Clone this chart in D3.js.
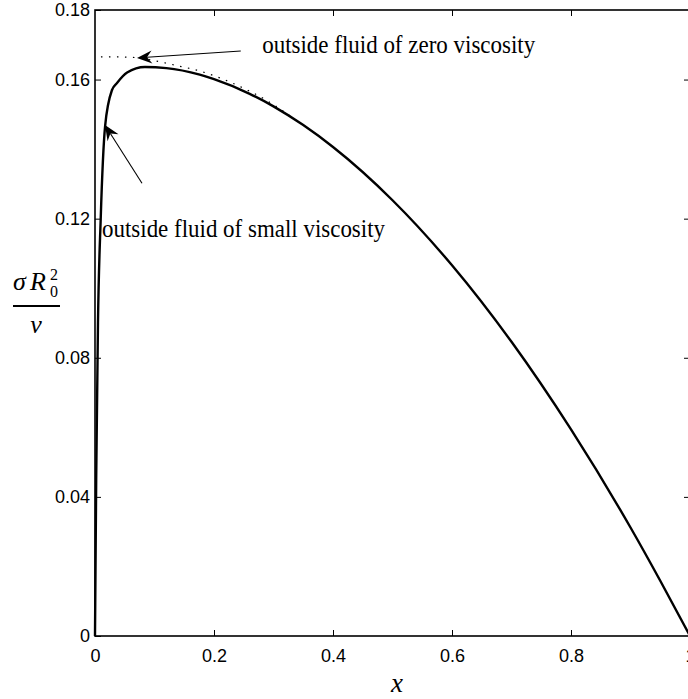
<!DOCTYPE html>
<html>
<head>
<meta charset="utf-8">
<script src="https://cdn.jsdelivr.net/npm/d3@7"></script>
<style>
  body { margin: 0; background: #fff; }
  svg { display: block; }
  .tick text { font-family: "Liberation Sans", Arial, sans-serif; font-size: 18px; fill: #000; }
  .tick line { stroke: #000; stroke-width: 1; }
  .note { font-family: "Liberation Serif", "DejaVu Serif", serif; font-size: 26px; fill: #000; }
  .math { font-family: "Liberation Serif", "DejaVu Serif", serif; font-style: italic; fill: #000; }
</style>
</head>
<body>
<script>
// curve: outside fluid of small viscosity
var curveX = [0, 0.002, 0.005, 0.0096, 0.017, 0.0286, 0.037, 0.054, 0.084, 0.12, 0.176, 0.2, 0.26, 0.3, 0.35, 0.4, 0.5, 0.6, 0.7, 0.8, 0.9, 0.95, 1];
var curveY = [0, 0.045, 0.09, 0.12, 0.1466, 0.157, 0.159, 0.162, 0.1636, 0.1633, 0.1614, 0.1601, 0.1559, 0.1523, 0.1469, 0.1406, 0.1253, 0.1066, 0.0846, 0.0594, 0.0312, 0.0159, 0];

// dotted: outside fluid of zero viscosity (merges into the solid curve)
var dotX = [0.01, 0.04, 0.07, 0.109, 0.138, 0.171, 0.232, 0.3, 0.34];
var dotY = [0.1665, 0.1665, 0.1663, 0.1651, 0.164, 0.1627, 0.1589, 0.1528, 0.148];

var xTicks = [0, 0.2, 0.4, 0.6, 0.8, 1];
var yTicks = [0, 0.04, 0.08, 0.12, 0.16, 0.18];

var notes = [
  {text: "outside fluid of zero viscosity", tx: 0.281, ty: 0.1676, len: 273, x0: 0.245, y0: 0.1682, x1: 0.0706, y1: 0.1662},
  {text: "outside fluid of small viscosity", tx: 0.0118, ty: 0.1147, len: 283, x0: 0.079, y0: 0.1302, x1: 0.0168, y1: 0.1469}
];

var width = 688, height = 699;
var x = d3.scaleLinear().domain([0, 1]).range([95, 690]);
var y = d3.scaleLinear().domain([0, 0.18]).range([636, 10]);

var svg = d3.select("body").append("svg")
    .attr("width", width)
    .attr("height", height);

// axes, ticks pointing inward
svg.append("g")
    .attr("transform", "translate(0," + y(0) + ")")
    .call(d3.axisBottom(x).tickValues(xTicks).tickSizeInner(-6).tickSizeOuter(0).tickPadding(13).tickFormat(d3.format("")))
    .call(function(g) { g.select(".domain").remove(); });
svg.append("g")
    .attr("transform", "translate(" + x(0) + ",0)")
    .call(d3.axisLeft(y).tickValues(yTicks).tickSizeInner(-6).tickSizeOuter(0).tickPadding(5).tickFormat(d3.format("")))
    .call(function(g) { g.select(".domain").remove(); });
svg.append("g")
    .attr("transform", "translate(0," + y(0.18) + ")")
    .call(d3.axisTop(x).tickValues(xTicks.slice(1, 5)).tickSizeInner(-6).tickSizeOuter(0).tickFormat(""))
    .call(function(g) { g.select(".domain").remove(); });
svg.append("g")
    .attr("transform", "translate(" + x(1) + ",0)")
    .call(d3.axisRight(y).tickValues(yTicks.slice(1, 5)).tickSizeInner(-6).tickSizeOuter(0).tickFormat(""))
    .call(function(g) { g.select(".domain").remove(); });

svg.append("rect")
    .attr("x", x(0)).attr("y", y(0.18))
    .attr("width", x(1) - x(0)).attr("height", y(0) - y(0.18))
    .attr("fill", "none").attr("stroke", "#000").attr("stroke-width", 1.6);

var line = d3.line()
    .x(function(d) { return x(d[0]); })
    .y(function(d) { return y(d[1]); })
    .curve(d3.curveMonotoneX);

svg.append("path")
    .datum(dotX.map(function(v, i) { return [v, dotY[i]]; }))
    .attr("d", line)
    .attr("fill", "none").attr("stroke", "#000").attr("stroke-width", 1.2)
    .attr("stroke-dasharray", "1.5,6.5");

svg.append("path")
    .datum(curveX.map(function(v, i) { return [v, curveY[i]]; }))
    .attr("d", line)
    .attr("fill", "none").attr("stroke", "#000").attr("stroke-width", 2.4)
    .attr("stroke-linejoin", "round");

// annotations with arrows
notes.forEach(function(n) {
  var ax = x(n.x0), ay = y(n.y0), bx = x(n.x1), by = y(n.y1);
  var ang = Math.atan2(by - ay, bx - ax);
  var L = 15, W = 6.5, N = 10;
  function pt(back, side) {
    return [bx - back * Math.cos(ang) - side * Math.sin(ang),
            by - back * Math.sin(ang) + side * Math.cos(ang)];
  }
  var nb = pt(N, 0);
  svg.append("line")
      .attr("x1", ax).attr("y1", ay).attr("x2", nb[0]).attr("y2", nb[1])
      .attr("stroke", "#000").attr("stroke-width", 1.1);
  svg.append("path")
      .attr("d", "M" + [bx, by] + "L" + pt(L, W) + "L" + nb + "L" + pt(L, -W) + "Z")
      .attr("fill", "#000");
  svg.append("text")
      .attr("class", "note")
      .attr("x", x(n.tx)).attr("y", y(n.ty))
      .attr("textLength", n.len).attr("lengthAdjust", "spacingAndGlyphs")
      .text(n.text);
});

// y label: sigma R_0^2 / nu
var yl = svg.append("g");
yl.append("text").attr("class", "math").attr("x", 13).attr("y", 290).style("font-size", "26px").text("σ");
yl.append("text").attr("class", "math").attr("x", 30).attr("y", 290).style("font-size", "26px").text("R");
yl.append("text").attr("class", "math").attr("x", 50).attr("y", 280).style("font-size", "16px").style("font-style", "normal").text("2");
yl.append("text").attr("class", "math").attr("x", 50).attr("y", 297).style("font-size", "16px").style("font-style", "normal").text("0");
yl.append("line").attr("x1", 13).attr("x2", 60).attr("y1", 306).attr("y2", 306).attr("stroke", "#000").attr("stroke-width", 2);
yl.append("text").attr("class", "math").attr("x", 36).attr("y", 333).attr("text-anchor", "middle").style("font-size", "26px").text("ν");

svg.append("text").attr("class", "math")
    .attr("x", 397).attr("y", 692).attr("text-anchor", "middle")
    .style("font-size", "27px").text("x");
</script>
</body>
</html>
